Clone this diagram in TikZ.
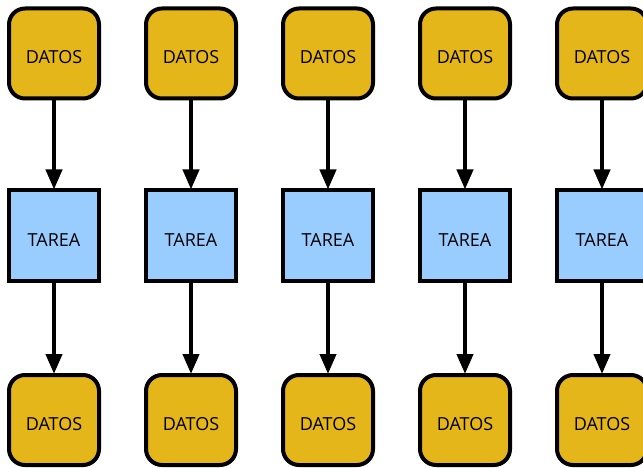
\documentclass[tikz,border=0pt]{standalone}
\usepackage{fontspec}
\setmainfont{Open Sans}
\usetikzlibrary{arrows.meta}
\definecolor{gold}{HTML}{E5B619}
\definecolor{skyb}{HTML}{99CCFF}
\newcommand{\lowtext}[1]{\raisebox{-10.5pt}[0pt][0pt]{#1}}
\tikzset{
  datos/.style={draw=black, line width=4pt, fill=gold, rounded corners=16pt,
    minimum width=90pt, minimum height=90pt, inner sep=0pt, font=\fontsize{18}{20}\selectfont},
  tarea/.style={draw=black, line width=4pt, fill=skyb,
    minimum width=90pt, minimum height=90pt, inner sep=0pt, font=\fontsize{18}{20}\selectfont},
  conn/.style={line width=4pt, -{Triangle[width=16pt,length=20pt]}, shorten >=-1pt}
}
\begin{document}
\begin{tikzpicture}[x=1pt,y=-1pt]
\useasboundingbox (0,0) rectangle (643,468);
\foreach \i/\x in {1/54,2/191,3/328,4/465,5/602}{
  \node[datos] (d\i) at (\x,53.5) {\lowtext{DATOS}};
  \node[tarea] (t\i) at (\x,235.5) {\lowtext{TAREA}};
  \node[datos] (b\i) at (\x,420) {\lowtext{DATOS}};
  \draw[conn] (d\i) -- (t\i);
  \draw[conn] (t\i) -- (b\i);
}
\end{tikzpicture}
\end{document}
